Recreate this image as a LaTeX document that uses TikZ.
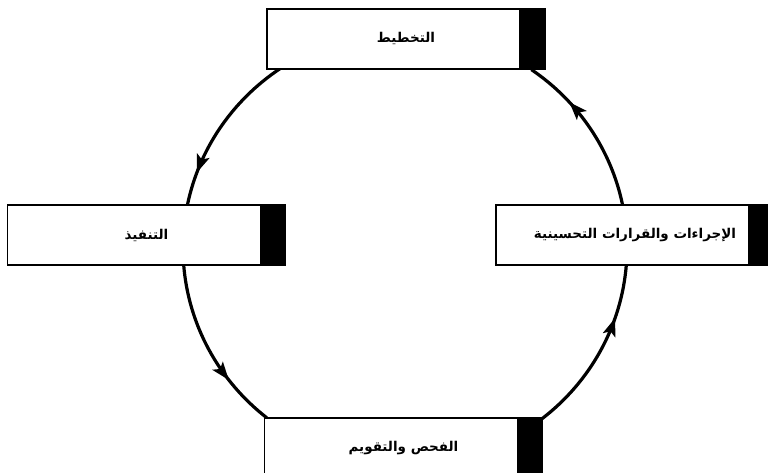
\documentclass[tikz,border=0pt]{standalone}
\usepackage{fontspec}
\newfontfamily\arabicfont[Script=Arabic]{DejaVu Sans}
\TeXXeTstate=1
\usepackage{tikz}
\usetikzlibrary{arrows.meta,decorations.markings}

\begin{document}
\begin{tikzpicture}[x=1pt, y=1pt,
  phase/.style={draw, line width=1.4pt, fill=white, minimum width=278pt, minimum height=60pt, inner sep=0pt,
    font=\arabicfont\bfseries\fontsize{13.5}{16}\selectfont,
    path picture={\fill[black] ([xshift=-26pt]path picture bounding box.south east) rectangle (path picture bounding box.north east);}},
  flow/.style={line width=3.2pt, postaction={decorate},
    decoration={markings, mark=at position #1 with {\arrow{Stealth[length=18pt,width=13pt,inset=4pt]}}}},
  flow/.default=0.7
]
  \useasboundingbox (0,0) rectangle (768,473);
  \coordinate (c) at (405,225);

  % arcs of the cycle
  \draw[flow=0.8] ([shift={(124.3:222 and 217)}]c) arc[start angle=124.3, end angle=168.6, x radius=222, y radius=217];
  \draw[flow] ([shift={(184.5:222 and 217)}]c) arc[start angle=184.5, end angle=231.5, x radius=222, y radius=217];
  \draw[flow] ([shift={(-52.1:222 and 217)}]c) arc[start angle=-52.1, end angle=-4.5, x radius=222, y radius=217];
  \draw[flow] ([shift={(11.5:222 and 217)}]c) arc[start angle=11.5, end angle=55.3, x radius=222, y radius=217];

  \node[phase] (plan) at (406,434) {\beginR التخطيط\endR};
  \node[phase] (exec) at (146.5,238) {\beginR التنفيذ\endR};
  \node[phase] (act) at (635,238) {\beginR الإجراءات والقرارات التحسينية\endR};
  \node[phase] (check) at (403.5,25) {\beginR الفحص والتقويم\endR};
\end{tikzpicture}
\end{document}
